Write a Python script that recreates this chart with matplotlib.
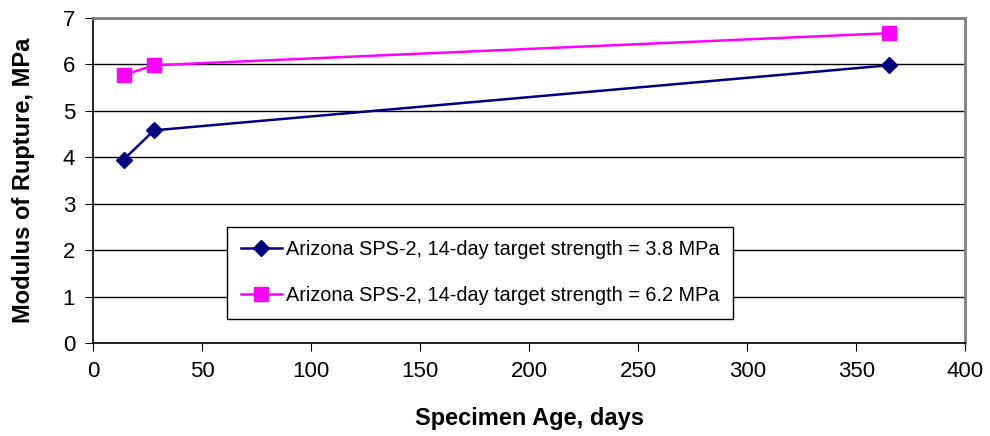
import matplotlib
matplotlib.use("Agg")
import matplotlib.pyplot as plt

plt.rcParams['font.family'] = ['Liberation Sans', 'DejaVu Sans']

age_days = [14, 28, 365]
mor_38 = [3.95, 4.58, 5.98]
mor_62 = [5.77, 5.98, 6.67]
labels = ['Arizona SPS-2, 14-day target strength = 3.8 MPa',
          'Arizona SPS-2, 14-day target strength = 6.2 MPa']

fig = plt.figure(figsize=(9.9, 4.36), dpi=100)
ax = fig.add_axes([0.094, 0.213, 0.881, 0.746])

ax.plot(age_days, mor_38, color='#000080', marker='D', markersize=8, lw=1.8, label=labels[0], zorder=3)
ax.plot(age_days, mor_62, color='#FF00FF', marker='s', markersize=10, lw=1.8, label=labels[1], zorder=3)

ax.set_xlim(0, 400)
ax.set_ylim(0, 7)
ax.set_xticks(range(0, 401, 50))
ax.set_yticks(range(0, 8))
ax.grid(axis='y', color='black', lw=1)
ax.set_axisbelow(True)
for s in ['top', 'right']:
    ax.spines[s].set_color('#808080')
    ax.spines[s].set_linewidth(2)
ax.spines['left'].set_linewidth(1.2)
ax.spines['bottom'].set_linewidth(1.2)
ax.tick_params(labelsize=16, direction='out', length=6, pad=7)

ax.set_xlabel('Specimen Age, days', fontsize=17, fontweight='bold', labelpad=18)
ax.set_ylabel('Modulus of Rupture, MPa', fontsize=17, fontweight='bold', labelpad=20)

leg = ax.legend(loc='lower left', bbox_to_anchor=(0.1537, 0.0738), borderaxespad=0,
                fontsize=14.3, frameon=True, fancybox=False, edgecolor='black',
                framealpha=1, borderpad=0.7, handlelength=2.06, handletextpad=0.2,
                labelspacing=1.35)
leg.get_frame().set_linewidth(1)

fig.savefig('out.png', dpi=100)
